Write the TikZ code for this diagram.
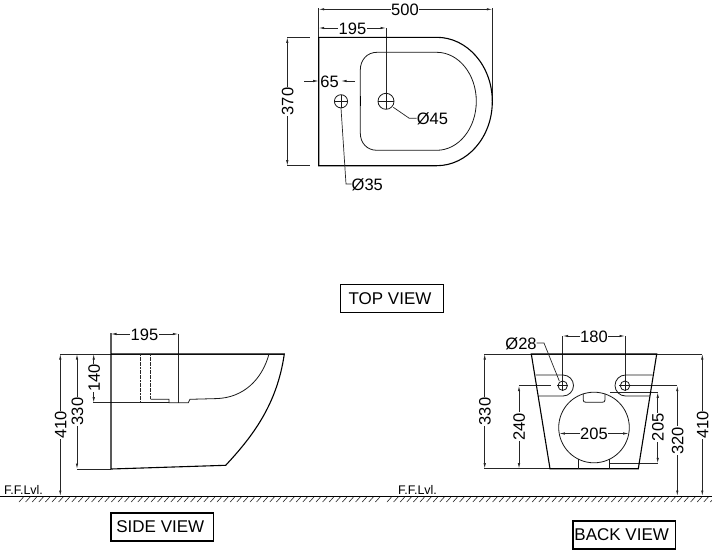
\documentclass[tikz,border=0pt]{standalone}
\usepackage{fontspec}
\setmainfont{Liberation Sans}
\usetikzlibrary{arrows.meta}
\tikzset{
  x=1pt,y=-1pt,
  body/.style={draw=black,line width=1.1pt},
  thinbody/.style={draw=black!90,line width=0.8pt},
  dimline/.style={draw=black!85,line width=0.7pt},
  dimarrow/.style={dimline,{Latex[length=5.5pt,width=2.4pt]}-{Latex[length=5.5pt,width=2.4pt]}},
  onearrow/.style={dimline,-{Latex[length=5.5pt,width=2.4pt]}},
  dimtext/.style={font=\fontsize{16.5}{18}\selectfont,fill=white,inner sep=0.6pt},
  rottext/.style={dimtext,rotate=90},
  leadtext/.style={font=\fontsize{16.5}{18}\selectfont,inner sep=0.6pt},
  lvltext/.style={font=\fontsize{12.5}{13}\selectfont,inner sep=0pt},
  viewbox/.style={draw=black,line width=1.3pt,font=\fontsize{17}{18}\selectfont,inner sep=0pt,minimum height=28pt,minimum width=102.6pt},
  hatchline/.style={draw=black!85,line width=0.6pt},
  dashwall/.style={draw=black!85,line width=0.8pt,dash pattern=on 2pt off 0.6pt}
}
\begin{document}
\begin{tikzpicture}
\useasboundingbox (0,0) rectangle (712,552);
\fill[white] (0,0) rectangle (712,552);
% ---------- floor
\draw[draw=black,line width=1.2pt] (0,496.7) -- (712,496.7);
\foreach \i in {0,...,54}{\draw[hatchline] ({19+\i*6.6},502) -- ({23.5+\i*6.6},497);}
\foreach \i in {0,...,49}{\draw[hatchline] ({387+\i*6.6},502) -- ({391.5+\i*6.6},497);}
\node[lvltext] (ffa) at (23.5,489.5) {F.F.Lvl.};
\node[lvltext] (ffb) at (417.5,489.5) {F.F.Lvl.};
% ---------- top view
\draw[dimline] (318.7,8) -- (318.7,37.3);
\draw[dimline] (492.3,8) -- (492.3,101.5);
\draw[dimline] (386,28) -- (386,93);
\draw[dimline] (287,37.3) -- (310,37.3);
\draw[dimline] (287,165.7) -- (310,165.7);
\draw[body] (318.7,37.3) -- (436.7,37.3) .. controls (467.4,37.3) and (492.3,66) .. (492.3,101.5)
  .. controls (492.3,137) and (467.4,165.7) .. (436.7,165.7) -- (318.7,165.7) -- cycle;
\draw[thinbody] (377,52.3) -- (436.7,52.3) .. controls (458.6,52.3) and (476.3,74.2) .. (476.3,101.3)
  .. controls (476.3,128.4) and (458.6,150.3) .. (436.7,150.3) -- (377,150.3)
  .. controls (367,150.3) and (360.3,143) .. (360.3,133) -- (360.3,70) .. controls (360.3,60) and (367,52.3) .. (377,52.3) -- cycle;
\draw[body] (360.3,96) -- (360.3,106);
\draw[thinbody] (341,101.3) circle[radius=6.6];
\draw[thinbody] (334.4,101.3) -- (347.6,101.3) (341,94.7) -- (341,107.9);
\draw[thinbody] (386,101.3) circle[radius=8];
\draw[thinbody] (378,101.3) -- (394,101.3) (386,93.3) -- (386,109.3);
\draw[dimarrow] (318.7,9.3) -- (492.3,9.3);
\node[dimtext] (d500) at (405,10.3) {500};
\draw[dimarrow] (318.7,28) -- (386,28);
\node[dimtext] (d195t) at (352.5,28.5) {195};
\draw[onearrow] (304,81) -- (318.7,81);
\draw[onearrow] (355,81) -- (341,81);
\node[dimtext] (d65) at (329.5,81.5) {65};
\draw[dimarrow] (287.3,37.3) -- (287.3,165.7);
\node[rottext] (d370) at (287.7,101.5) {370};
\draw[dimline] (393.3,107.3) -- (409.3,118.3) -- (416.7,118.3);
\node[leadtext] (d45) at (432.5,118.5) {Ø45};
\draw[dimline] (341,108) -- (346,184) -- (351.7,184);
\node[leadtext] (d35) at (367.3,184.5) {Ø35};
\node[viewbox] (top) at (392,298.3) {TOP VIEW\kern4pt};
% ---------- side view
\draw[dimline] (60,354) -- (284,354);
\draw[dimline] (178.3,334) -- (178.3,402.7);
\draw[dimline] (93.3,402.7) -- (140.7,402.7);
\draw[dimline] (77,469) -- (111,469);
\draw[body] (111,333) -- (111,469) -- (225.7,465.3) .. controls (252,437) and (277,405) .. (284.3,354) -- (111,354);
\draw[thinbody] (269,354) .. controls (262,380) and (243,398) .. (216,398.6) -- (190,399.3) -- (188.3,402.7) -- (169,402.7) -- (169,399.3) -- (150.7,399.3);
\draw[thinbody] (140.7,402.7) -- (169,402.7);
\draw[dashwall] (140.7,354) -- (140.7,402.7);
\draw[dashwall] (150.7,354) -- (150.7,399.3);
\draw[dimarrow] (111,334) -- (178.3,334);
\node[dimtext] (d195s) at (144.5,334.5) {195};
\draw[dimarrow] (93.7,354) -- (93.7,402.7);
\node[rottext] (d140) at (94.3,378) {140};
\draw[dimarrow] (77,354) -- (77,469);
\node[rottext] (d330s) at (77.5,411.5) {330};
\draw[dimarrow] (60.3,354) -- (60.3,496);
\node[rottext] (d410s) at (60.7,425) {410};
\node[viewbox] (side) at (162.3,527) {SIDE VIEW\kern4pt};
% ---------- back view
\draw[dimline] (484.3,354) -- (702.3,354);
\draw[dimline] (484.3,468.7) -- (550,468.7);
\draw[dimline] (519,385.7) -- (551,385.7);
\draw[dimline] (625,385.7) -- (677.3,385.7);
\draw[dimline] (562.7,336) -- (562.7,385.7);
\draw[dimline] (625,336) -- (625,385.7);
\draw[dimline] (610,463.3) -- (657.7,463.3);
\draw[dimline] (610,392.3) -- (657.7,392.3);
\draw[body] (531.3,354) -- (656.7,354) -- (638.3,468.7) -- (550,468.7) -- cycle;
\draw[thinbody] (535.7,375) -- (563,375) .. controls (568.8,375) and (573.5,379.7) .. (573.5,385.5)
  .. controls (573.5,391.3) and (568.8,396) .. (563,396) -- (538.3,396);
\draw[thinbody] (652.7,375) -- (625.5,375) .. controls (619.7,375) and (615,379.7) .. (615,385.5)
  .. controls (615,391.3) and (619.7,396) .. (625.5,396) -- (650,396);
\draw[thinbody] (594,427.5) circle[radius=35.3];
\draw[thinbody] (578.3,459) -- (578.3,468.7) (609.3,459) -- (609.3,468.7);
\draw[thinbody] (583.3,393.5) -- (583.3,400) .. controls (583.3,401.5) and (584,402.3) .. (586,402.3) -- (602,402.3) .. controls (604,402.3) and (605,401.5) .. (605,400) -- (605,393.5);
\draw[thinbody] (562.7,385.7) circle[radius=4.7];
\draw[thinbody] (557,385.7) -- (568.4,385.7) (562.7,380) -- (562.7,391.4);
\draw[thinbody] (625,385.7) circle[radius=4.7];
\draw[thinbody] (619.3,385.7) -- (630.7,385.7) (625,380) -- (625,391.4);
\draw[dimarrow] (562.7,336) -- (625,336);
\node[dimtext] (d180) at (594,336.5) {180};
\draw[dimline] (536.7,343) -- (544,343) -- (559.3,381);
\node[leadtext] (d28) at (521,343.5) {Ø28};
\draw[dimarrow] (559.3,433.5) -- (628.7,433.5);
\node[dimtext] (d205h) at (594,434) {205};
\draw[dimarrow] (484.7,354) -- (484.7,468.7);
\node[rottext] (d330b) at (485,411.5) {330};
\draw[dimarrow] (519,385.7) -- (519,468.7);
\node[rottext] (d240) at (519.3,426.7) {240};
\draw[dimarrow] (657.7,392.3) -- (657.7,463.3);
\node[rottext] (d205v) at (658,427.3) {205};
\draw[dimarrow] (677.3,385.7) -- (677.3,496);
\node[rottext] (d320) at (677.7,440.7) {320};
\draw[dimarrow] (702.3,354) -- (702.3,496);
\node[rottext] (d410b) at (702.7,425) {410};
\node[viewbox] (back) at (624.2,535) {BACK VIEW\kern5pt};
\end{tikzpicture}
\end{document}
